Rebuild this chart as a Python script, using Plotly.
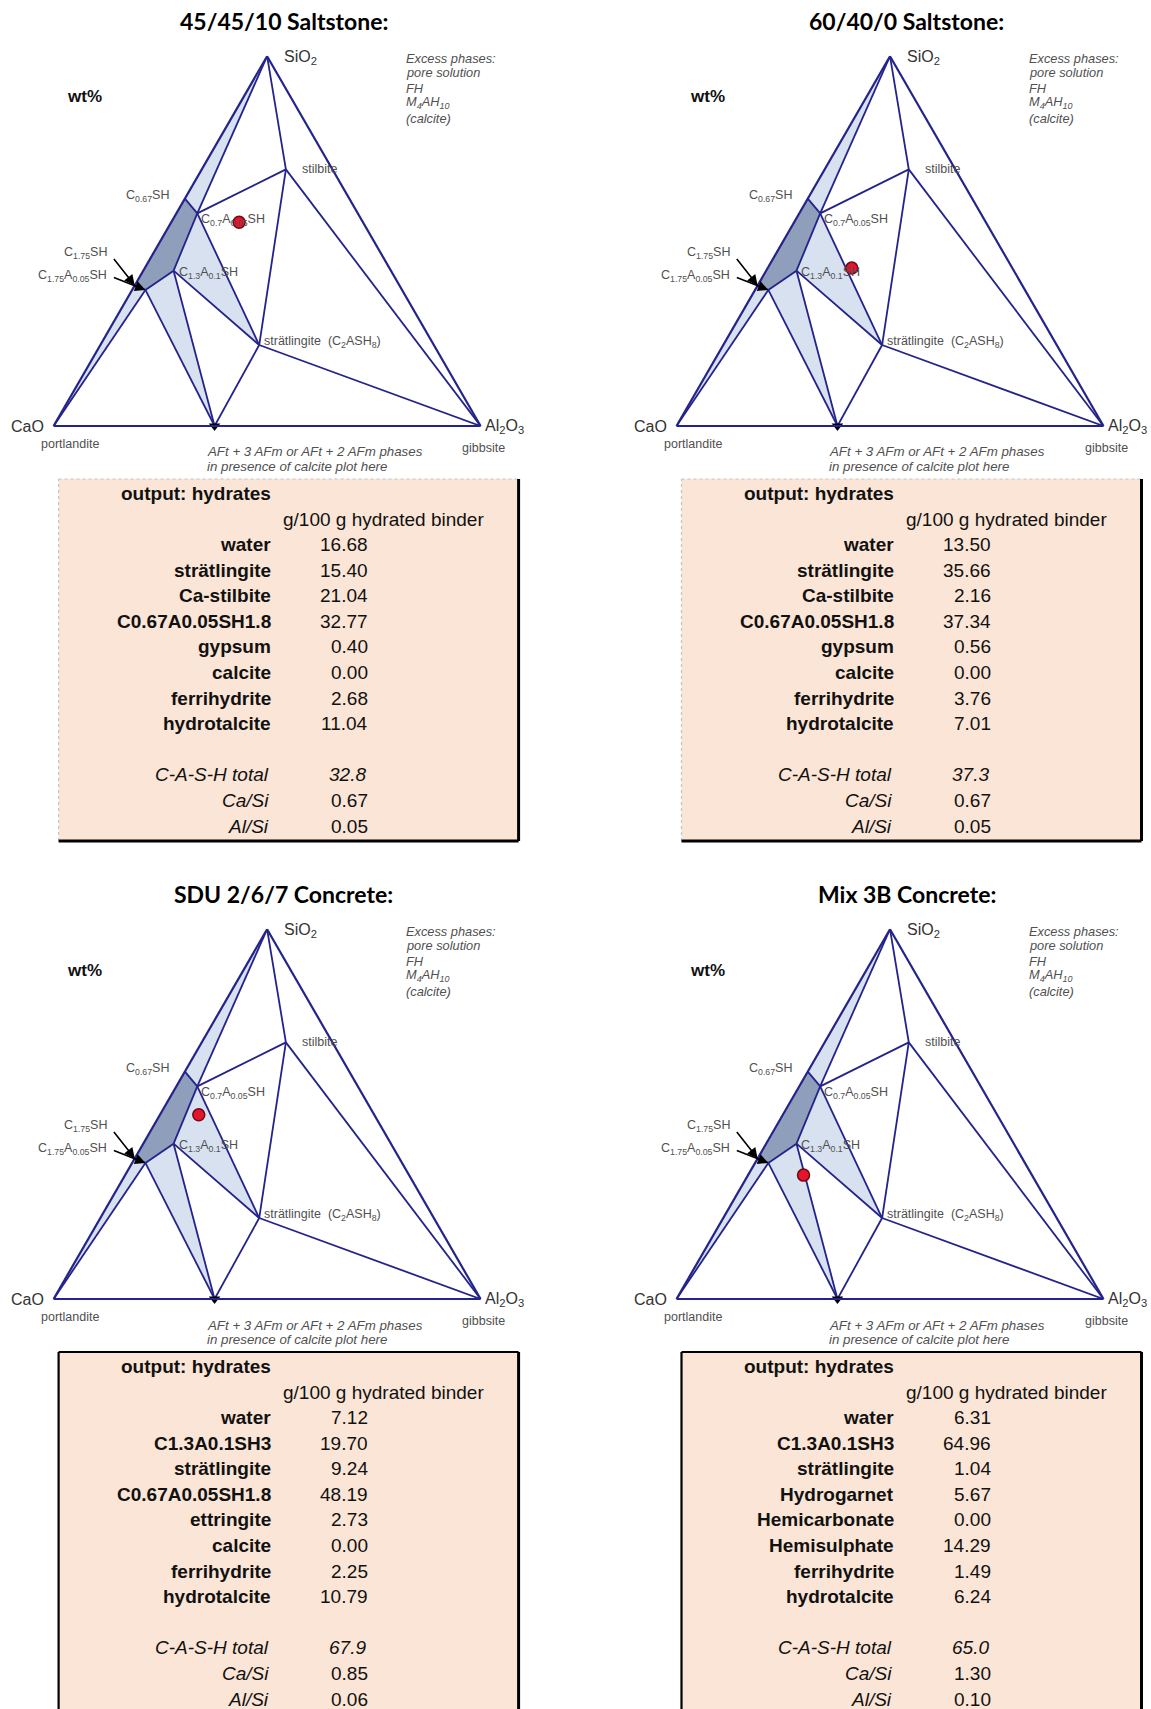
import math
import plotly.graph_objects as go

FIG_W, FIG_H = 1151, 1709

# ---------------------------------------------------------------------------
# Phase compositions in the CaO-SiO2-Al2O3 system (wt%)
# ---------------------------------------------------------------------------
phase_names = ["SiO2", "CaO", "Al2O3", "C0.67SH", "C1.75SH", "C0.7A0.05SH",
               "C1.3A0.1SH", "C1.75A0.05SH", "stilbite", "stratlingite", "C3A"]
phase_sio2 = [100, 0, 0, 61.5, 38.0, 57.5, 42.0, 36.8, 69.4, 21.9, 0]
phase_cao = [0, 100, 0, 38.5, 62.0, 37.6, 50.9, 60.1, 10.9, 40.9, 62.3]
phase_al2o3 = [0, 0, 100, 0, 0, 4.9, 7.1, 3.1, 19.7, 37.2, 37.7]

# tie lines between coexisting phases
tie_lines = [
    ("SiO2", "C0.7A0.05SH"), ("SiO2", "stilbite"), ("stilbite", "C0.7A0.05SH"),
    ("stilbite", "Al2O3"), ("stilbite", "stratlingite"),
    ("C0.7A0.05SH", "stratlingite"), ("C1.3A0.1SH", "stratlingite"),
    ("C1.3A0.1SH", "C3A"), ("C1.75A0.05SH", "C3A"), ("CaO", "C1.75A0.05SH"),
    ("stratlingite", "C3A"), ("stratlingite", "Al2O3"),
    ("C0.67SH", "C0.7A0.05SH"), ("C0.7A0.05SH", "C1.3A0.1SH"),
    ("C1.3A0.1SH", "C1.75A0.05SH"), ("C1.75A0.05SH", "C1.75SH"),
]

# shaded three-phase fields (light) and the C-A-S-H solid solution (dark)
light_fields = [
    ["SiO2", "C0.67SH", "C0.7A0.05SH"],
    ["CaO", "C1.75SH", "C1.75A0.05SH"],
    ["C0.7A0.05SH", "C1.3A0.1SH", "stratlingite"],
    ["C1.75A0.05SH", "C1.3A0.1SH", "C3A"],
]
cash_field = ["C0.67SH", "C0.7A0.05SH", "C1.3A0.1SH", "C1.75A0.05SH", "C1.75SH"]

# ---------------------------------------------------------------------------
# Bulk compositions of the four binders (wt%)
# ---------------------------------------------------------------------------
panel_titles = ["45/45/10 Saltstone:", "60/40/0 Saltstone:",
                "SDU 2/6/7 Concrete:", "Mix 3B Concrete:"]
bulk_sio2 = [55.1, 42.7, 49.8, 33.5]
bulk_cao = [29.0, 37.6, 41.1, 53.5]
bulk_al2o3 = [15.9, 19.7, 9.1, 13.0]

# ---------------------------------------------------------------------------
# Modelled hydrate assemblages, g/100 g hydrated binder
# ---------------------------------------------------------------------------
hydrates_saltstone_45 = ["water", "strätlingite", "Ca-stilbite", "C0.67A0.05SH1.8",
                         "gypsum", "calcite", "ferrihydrite", "hydrotalcite"]
amounts_saltstone_45 = [16.68, 15.40, 21.04, 32.77, 0.40, 0.00, 2.68, 11.04]
cash_saltstone_45 = [32.8, 0.67, 0.05]

hydrates_saltstone_60 = ["water", "strätlingite", "Ca-stilbite", "C0.67A0.05SH1.8",
                         "gypsum", "calcite", "ferrihydrite", "hydrotalcite"]
amounts_saltstone_60 = [13.50, 35.66, 2.16, 37.34, 0.56, 0.00, 3.76, 7.01]
cash_saltstone_60 = [37.3, 0.67, 0.05]

hydrates_sdu = ["water", "C1.3A0.1SH3", "strätlingite", "C0.67A0.05SH1.8",
                "ettringite", "calcite", "ferrihydrite", "hydrotalcite"]
amounts_sdu = [7.12, 19.70, 9.24, 48.19, 2.73, 0.00, 2.25, 10.79]
cash_sdu = [67.9, 0.85, 0.06]

hydrates_mix3b = ["water", "C1.3A0.1SH3", "strätlingite", "Hydrogarnet",
                  "Hemicarbonate", "Hemisulphate", "ferrihydrite", "hydrotalcite"]
amounts_mix3b = [6.31, 64.96, 1.04, 5.67, 0.00, 14.29, 1.49, 6.24]
cash_mix3b = [65.0, 1.30, 0.10]

cash_labels = ["C-A-S-H total", "Ca/Si", "Al/Si"]

tables = [
    (hydrates_saltstone_45, amounts_saltstone_45, cash_saltstone_45),
    (hydrates_saltstone_60, amounts_saltstone_60, cash_saltstone_60),
    (hydrates_sdu, amounts_sdu, cash_sdu),
    (hydrates_mix3b, amounts_mix3b, cash_mix3b),
]

# ---------------------------------------------------------------------------
# Page geometry (pixels): CaO corner x, base line y, triangle side length
# ---------------------------------------------------------------------------
panel_x0 = [53.6, 676.5, 53.6, 676.5]
panel_base = [426, 426, 1299, 1299]
TRI_W = 427.0
TRI_H = TRI_W * math.sqrt(3) / 2

LINE = "#23238a"
LIGHT = "#d8e1f0"
DARK = "#8f9fbb"
TEXT = "#333333"
SOFT = "#505050"
ARIAL = "Liberation Sans, Arial, sans-serif"
TITLE_FONT = "Lato, Open Sans, sans-serif"

comp = {n: (s, c, a) for n, s, c, a in zip(phase_names, phase_sio2, phase_cao, phase_al2o3)}


def px(k, name):
    """Page position (pixels) of a named phase in panel k (used for label placement)."""
    s, c, a = comp[name]
    tot = s + c + a
    x = panel_x0[k] + TRI_W * (a / tot + 0.5 * s / tot)
    y = panel_base[k] - TRI_H * s / tot
    return x, y


def pap(x, y):
    return x / FIG_W, 1 - y / FIG_H


fig = go.Figure()
annotations = []
shapes = []


def text(x, y, s, size=12, color=TEXT, family=ARIAL, anchor="left", bold=False,
         italic=False, yanchor="middle"):
    if bold:
        s = "<b>" + s + "</b>"
    if italic:
        s = "<i>" + s + "</i>"
    xp, yp = pap(x, y)
    annotations.append(dict(x=xp, y=yp, xref="paper", yref="paper", text=s,
                            showarrow=False, xanchor=anchor, yanchor=yanchor,
                            font=dict(size=size, color=color, family=family)))


def arrow(x, y, dx, dy):
    xp, yp = pap(x, y)
    annotations.append(dict(x=xp, y=yp, xref="paper", yref="paper", text="",
                            showarrow=True, ax=dx, ay=dy, arrowhead=2, arrowsize=1.3,
                            arrowwidth=1.6, arrowcolor="black", standoff=0))


for k in range(4):
    sub = "ternary" if k == 0 else f"ternary{k + 1}"
    x0, base = panel_x0[k], panel_base[k]

    # ternary frame: edges only, no ticks or grid
    axis_style = dict(showticklabels=False, ticks="", showgrid=False, title=dict(text=""),
                      tickmode="array", tickvals=[], ticktext=[],
                      showline=True, linecolor=LINE, linewidth=2.2, min=0)
    fig.update_layout(**{sub: dict(
        sum=100,
        domain=dict(x=[x0 / FIG_W, (x0 + TRI_W) / FIG_W],
                    y=[1 - base / FIG_H, 1 - (base - TRI_H) / FIG_H]),
        bgcolor="rgba(0,0,0,0)",
        aaxis=axis_style, baxis=axis_style, caxis=axis_style,
    )})

    # shaded fields
    for field in light_fields:
        pts = field + [field[0]]
        fig.add_trace(go.Scatterternary(
            subplot=sub, mode="lines", fill="toself", fillcolor=LIGHT,
            a=[comp[p][0] for p in pts], b=[comp[p][1] for p in pts],
            c=[comp[p][2] for p in pts], line=dict(width=0, color=LIGHT),
            hoverinfo="skip", showlegend=False))
    pts = cash_field + [cash_field[0]]
    fig.add_trace(go.Scatterternary(
        subplot=sub, mode="lines", fill="toself", fillcolor=DARK,
        a=[comp[p][0] for p in pts], b=[comp[p][1] for p in pts],
        c=[comp[p][2] for p in pts], line=dict(width=0, color=DARK),
        hoverinfo="skip", showlegend=False))

    # tie lines
    for p, q in tie_lines:
        fig.add_trace(go.Scatterternary(
            subplot=sub, mode="lines",
            a=[comp[p][0], comp[q][0]], b=[comp[p][1], comp[q][1]], c=[comp[p][2], comp[q][2]],
            line=dict(color=LINE, width=1.8), hoverinfo="skip", showlegend=False))

    # AFt/AFm pointer on the CaO-Al2O3 join
    fig.add_trace(go.Scatterternary(
        subplot=sub, mode="markers", cliponaxis=False,
        a=[comp["C3A"][0]], b=[comp["C3A"][1]], c=[comp["C3A"][2]],
        marker=dict(symbol="triangle-down", size=10, color="black"),
        hoverinfo="skip", showlegend=False))

    # bulk composition of the binder
    fig.add_trace(go.Scatterternary(
        subplot=sub, mode="markers", cliponaxis=False,
        a=[bulk_sio2[k]], b=[bulk_cao[k]], c=[bulk_al2o3[k]],
        marker=dict(size=12, color="#e3142c", line=dict(color="#6e0a14", width=1.5)),
        hoverinfo="skip", showlegend=False))

    # ---- labels -----------------------------------------------------------
    text(x0 + 230, base - 405, panel_titles[k], size=23, color="black",
         family=TITLE_FONT, anchor="center", bold=True)
    text(x0 + 31, base - 329, "wt%", size=17, color="#111111", anchor="center", bold=True)

    excess = ["Excess phases:", "pore solution", "FH", "M<sub>4</sub>AH<sub>10</sub>", "(calcite)"]
    for i, s in enumerate(excess):
        text(x0 + 350, base - 368 + 15 * i, s, size=12.8, color=SOFT, italic=True)

    sx, sy = px(k, "SiO2")
    text(sx + 15, sy + 1, "SiO<sub>2</sub>", size=16, color=TEXT)
    cx, cy = px(k, "CaO")
    text(cx - 8, cy, "CaO", size=16, color=TEXT, anchor="right")
    text(cx + 16, cy + 18, "portlandite", size=12.5, color=SOFT, anchor="center")
    ax_, ay_ = px(k, "Al2O3")
    text(ax_ + 2, ay_, "Al<sub>2</sub>O<sub>3</sub>", size=16, color=TEXT)
    text(ax_ + 3, ay_ + 22, "gibbsite", size=12.5, color=SOFT, anchor="center")
    tx, ty = px(k, "C3A")
    text(tx - 10, ty + 26, "AFt + 3 AFm or AFt + 2 AFm phases", size=13.3, color=SOFT, italic=True)
    text(tx - 10, ty + 40, "in presence of calcite plot here", size=13.3, color=SOFT, italic=True)

    x, y = px(k, "C0.67SH")
    text(x - 14, y - 3, "C<sub>0.67</sub>SH", size=12.5, color=SOFT, anchor="right")
    x, y = px(k, "C0.7A0.05SH")
    text(x + 2, y + 7, "C<sub>0.7</sub>A<sub>0.05</sub>SH", size=12.5, color=SOFT)
    x, y = px(k, "C1.3A0.1SH")
    text(x + 3, y + 2, "C<sub>1.3</sub>A<sub>0.1</sub>SH", size=12.5, color=SOFT)
    x, y = px(k, "stilbite")
    text(x + 14, y, "stilbite", size=12.5, color=SOFT)
    x, y = px(k, "stratlingite")
    text(x + 3, y - 3, "strätlingite  (C<sub>2</sub>ASH<sub>8</sub>)", size=12.5, color=SOFT)

    x, y = px(k, "C1.75SH")
    text(x - 26, y - 32, "C<sub>1.75</sub>SH", size=12.5, color=SOFT, anchor="right")
    arrow(x, y, -22, -28)
    x, y = px(k, "C1.75A0.05SH")
    text(x - 36, y - 14, "C<sub>1.75</sub>A<sub>0.05</sub>SH", size=12.5, color=SOFT, anchor="right")
    arrow(x, y, -33, -13)

    # ---- output table ---------------------------------------------------------
    names, amounts, cash = tables[k]
    left, right = x0 + 5, x0 + 465
    top = base + 53
    bottom = base + 415 if k < 2 else FIG_H + 20
    l_, t_ = pap(left, top)
    r_, b_ = pap(right, bottom)
    shapes.append(dict(type="rect", xref="paper", yref="paper", x0=l_, x1=r_, y0=b_, y1=t_,
                       fillcolor="#fbe5d6", line=dict(width=0), layer="below"))
    if k < 2:
        shapes.append(dict(type="line", xref="paper", yref="paper", x0=l_, x1=r_, y0=t_, y1=t_,
                           line=dict(color="#c4c4c4", width=1.2, dash="dot")))
        shapes.append(dict(type="line", xref="paper", yref="paper", x0=l_, x1=l_, y0=b_, y1=t_,
                           line=dict(color="#c4c4c4", width=1.2, dash="dot")))
        shapes.append(dict(type="line", xref="paper", yref="paper", x0=l_, x1=r_, y0=b_, y1=b_,
                           line=dict(color="black", width=3)))
    else:
        shapes.append(dict(type="line", xref="paper", yref="paper", x0=l_, x1=r_, y0=t_, y1=t_,
                           line=dict(color="black", width=2.2)))
        shapes.append(dict(type="line", xref="paper", yref="paper", x0=l_, x1=l_, y0=b_, y1=t_,
                           line=dict(color="black", width=2.2)))
    shapes.append(dict(type="line", xref="paper", yref="paper", x0=r_, x1=r_, y0=b_, y1=t_,
                       line=dict(color="black", width=3)))

    lab_x, val_x = x0 + 219, x0 + 316
    text(lab_x, base + 67, "output: hydrates", size=19, color="#111111", anchor="right", bold=True)
    text(x0 + 227, base + 93, "g/100 g hydrated binder", size=19, color="#111111")
    row = base + 118.5
    step = 25.6
    for i, (n, v) in enumerate(zip(names, amounts)):
        yy = row + step * i
        text(lab_x, yy, n, size=19, color="#111111", anchor="right", bold=True)
        text(val_x, yy, f"{v:.2f}", size=19, color="#111111", anchor="right")
    for i, (n, v) in enumerate(zip(cash_labels, cash)):
        yy = row + step * (9 + i)
        text(lab_x - 2, yy, n, size=19, color="#111111", anchor="right", italic=True)
        if i == 0:
            text(val_x - 2, yy, f"{v:.1f}", size=19, color="#111111", anchor="right", italic=True)
        else:
            text(val_x, yy, f"{v:.2f}", size=19, color="#111111", anchor="right")

fig.update_layout(
    width=FIG_W, height=FIG_H,
    margin=dict(l=0, r=0, t=0, b=0),
    paper_bgcolor="white", plot_bgcolor="white",
    showlegend=False,
    annotations=annotations, shapes=shapes,
)

fig.write_html("out.html")
